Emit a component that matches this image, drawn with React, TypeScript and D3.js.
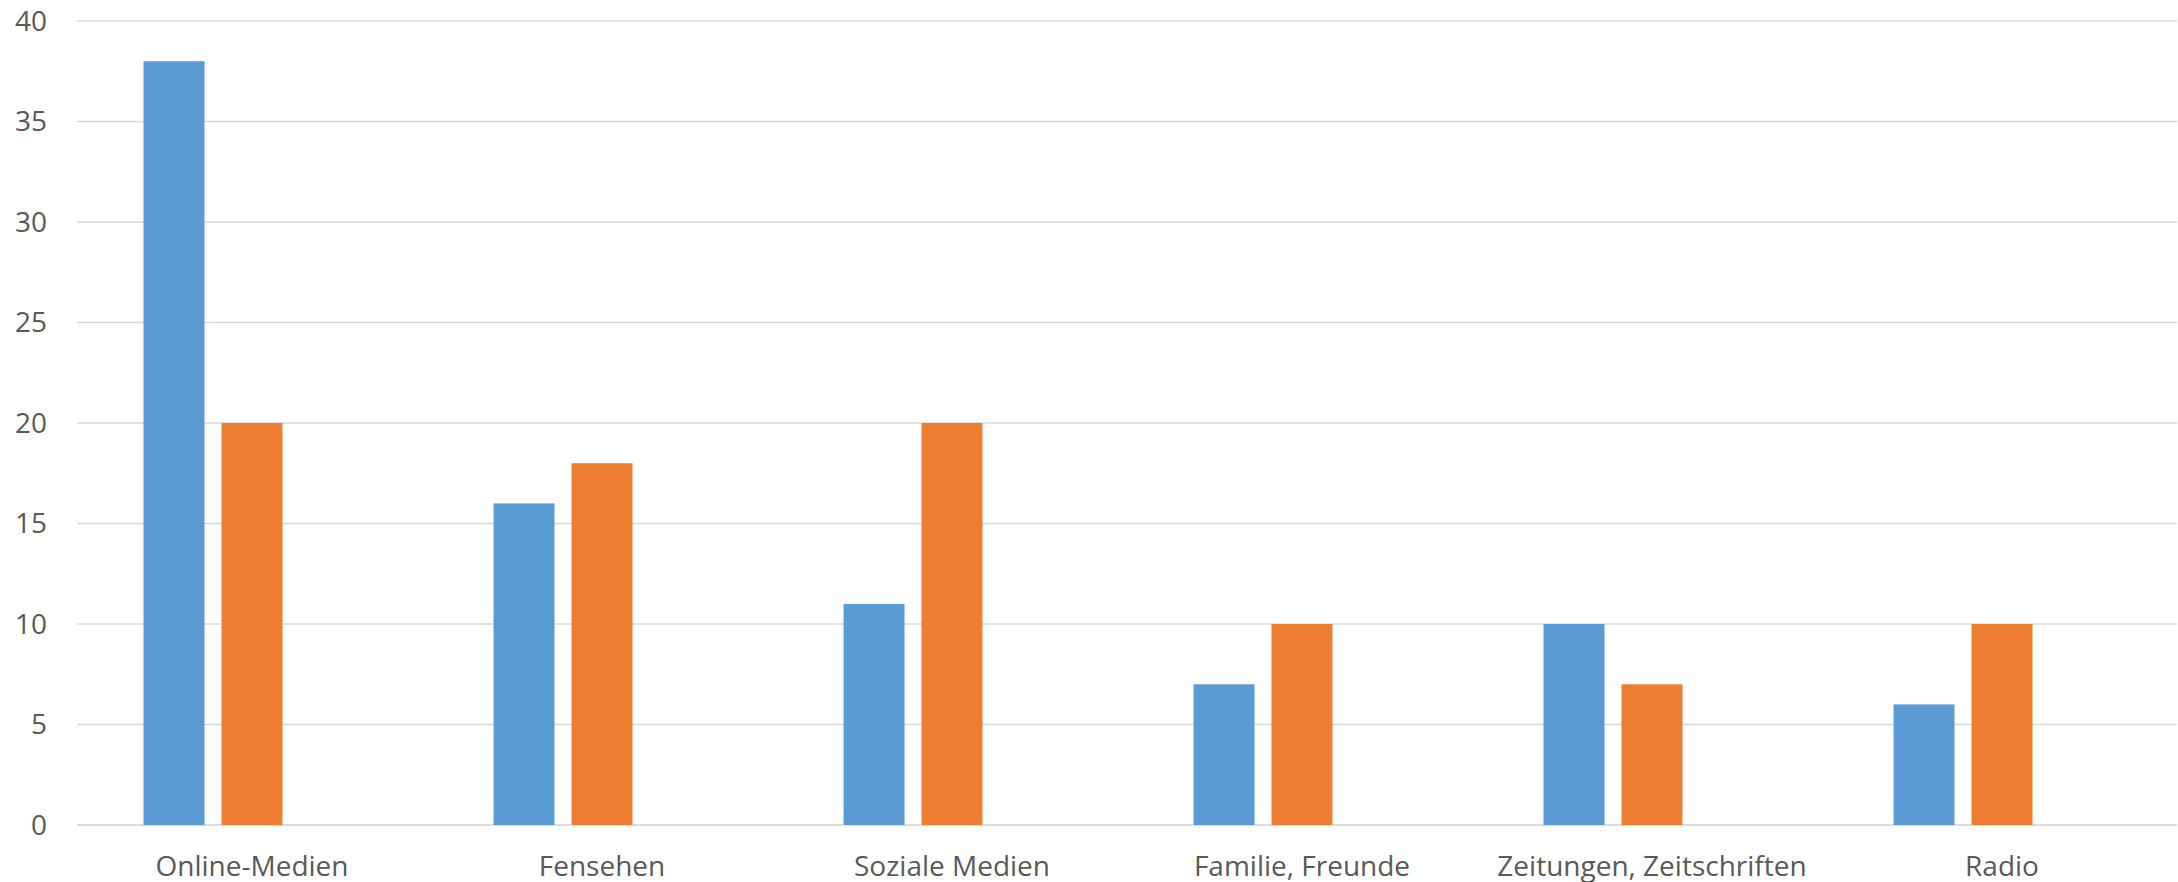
import React from "react";
import * as d3 from "d3";

const categories = ["Online-Medien", "Fensehen", "Soziale Medien", "Familie, Freunde", "Zeitungen, Zeitschriften", "Radio"];
const series1 = [38, 16, 11, 7, 10, 6];
const series2 = [20, 18, 20, 10, 7, 10];
const series3: (number | null)[] = [null, null, null, null, null, null];
const yTicks = [0, 5, 10, 15, 20, 25, 30, 35, 40];

const W = 2178;
const H = 882;
const left = 77;
const right = 2177;
const top = 21;
const bottom = 825;

export default function App() {
  const x = d3.scaleBand<string>().domain(categories).range([left, right]).paddingInner(0).paddingOuter(0);
  const y = d3.scaleLinear().domain([0, 40]).range([bottom, top]);
  const seriesNames = ["s1", "s2", "s3"];
  const bw = x.bandwidth();
  const inner = d3.scaleBand<string>().domain(seriesNames).range([0, bw]).paddingInner(0.218).paddingOuter(0.853);
  const colors = ["#5B9BD5", "#ED7D31", "#A5A5A5"];
  const all = [series1, series2, series3];
  return (
    <svg width={W} height={H} style={{ position: "absolute", left: 0, top: 0, background: "#fff" }}>
      {yTicks.map((t) => (
        <g key={t}>
          <line x1={left} x2={right} y1={y(t)} y2={y(t)} stroke={t === 0 ? "#d0d0d0" : "#d9d9d9"} strokeWidth={1.5} />
          <text x={47} y={y(t)} dy="0.35em" textAnchor="end" fontFamily="'Open Sans', sans-serif" fontSize={28} fill="#595959">
            {t}
          </text>
        </g>
      ))}
      {categories.map((c, i) => (
        <g key={c}>
          {all.map((s, k) => {
            const v = s[i];
            if (v == null) return null;
            return (
              <rect
                key={k}
                x={(x(c) ?? 0) + (inner(seriesNames[k]) ?? 0)}
                y={y(v)}
                width={inner.bandwidth()}
                height={y(0) - y(v)}
                fill={colors[k]}
              />
            );
          })}
          <text x={(x(c) ?? 0) + bw / 2} y={876} textAnchor="middle" fontFamily="'Open Sans', sans-serif" fontSize={28} fill="#595959">
            {c}
          </text>
        </g>
      ))}
    </svg>
  );
}
